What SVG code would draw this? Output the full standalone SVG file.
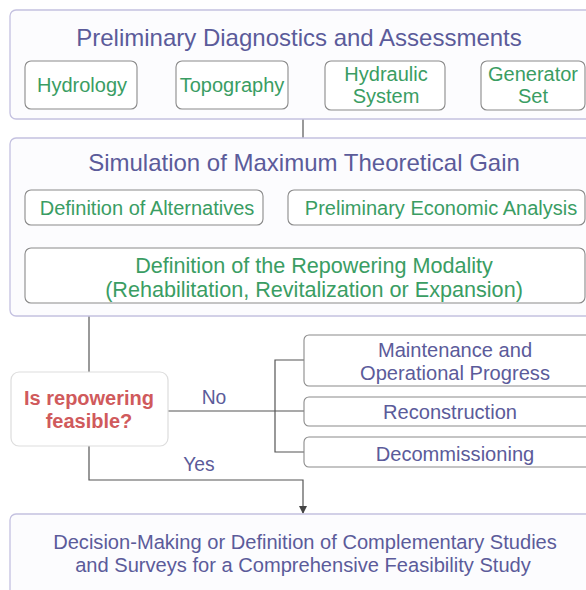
<svg xmlns="http://www.w3.org/2000/svg" width="586" height="590" viewBox="0 0 586 590">
<style>
text{font-family:"Liberation Sans",Arial,sans-serif;text-anchor:middle}
.outer{fill:#fcfcfe;stroke:#c4c1e0;stroke-width:1.3}
.sub{fill:#fff;stroke:#8a8a8a;stroke-width:1.1}
.title{fill:#5b5b9a;font-size:24px}
.g{fill:#3a9d63;font-size:20px}
.gm{fill:#3a9d63;font-size:21.6px}
.p{fill:#5b5b9a;font-size:20.1px}
.lbl{fill:#5b5b9a;font-size:19.3px}
.c{fill:none;stroke:#555;stroke-width:1.2}
</style>
<defs>
<marker id="ah" markerWidth="8" markerHeight="8" refX="7" refY="4" orient="auto" markerUnits="userSpaceOnUse">
<path d="M0,0 L8,4 L0,8 z" fill="#444"/>
</marker>
</defs>
<rect width="586" height="590" fill="#fff"/>
<g id="connectors">
<line class="c" x1="303" y1="119" x2="303" y2="138"/>
<line class="c" x1="263" y1="208" x2="288" y2="208"/>
<line class="c" x1="274" y1="208" x2="274" y2="247" marker-end="url(#ah)"/>
<line class="c" x1="89" y1="316" x2="89" y2="372"/>
<polyline class="c" points="168,411 304,411"/>
<polyline class="c" points="304,360 275,360 275,452 304,452"/>
<polyline class="c" points="89,446 89,480 303,480 303,513" marker-end="url(#ah)"/>
</g>
<g id="prelim">
<rect class="outer" x="10" y="10" width="600" height="109" rx="6"/>
<text class="title" x="299" y="46">Preliminary Diagnostics and Assessments</text>
</g>
<g id="hydrology"><rect class="sub" x="25" y="61" width="112" height="48" rx="6"/><text class="g" x="82" y="92">Hydrology</text></g>
<g id="topography"><rect class="sub" x="176" y="61" width="112" height="48" rx="6"/><text class="g" x="232" y="92">Topography</text></g>
<g id="hydraulic"><rect class="sub" x="325" y="61" width="120" height="49" rx="6"/><text class="g" x="386" y="81">Hydraulic</text><text class="g" x="386" y="103">System</text></g>
<g id="generator"><rect class="sub" x="481" y="61" width="104" height="49" rx="6"/><text class="g" x="533" y="81">Generator</text><text class="g" x="533" y="103">Set</text></g>
<g id="simulation">
<rect class="outer" x="10" y="138" width="600" height="178" rx="6"/>
<text class="title" x="304" y="171">Simulation of Maximum Theoretical Gain</text>
</g>
<g id="alternatives"><rect class="sub" x="25" y="190" width="238" height="35" rx="6"/><text class="g" x="147" y="215">Definition of Alternatives</text></g>
<g id="economic"><rect class="sub" x="288" y="190" width="297" height="35" rx="6"/><text class="g" x="441" y="215">Preliminary Economic Analysis</text></g>
<g id="modality"><rect class="sub" x="25" y="248" width="560" height="55" rx="6"/><text class="gm" x="314" y="273">Definition of the Repowering Modality</text><text class="gm" x="314" y="297">(Rehabilitation, Revitalization or Expansion)</text></g>
<g id="decision"><rect x="11" y="372" width="157" height="74" rx="8" fill="#fff" stroke="#ddd" stroke-width="1.2"/><text x="89" y="405" font-size="20" font-weight="bold" fill="#d05a5c">Is repowering</text><text x="89" y="428" font-size="20" font-weight="bold" fill="#d05a5c">feasible?</text></g>
<text class="lbl" x="214" y="404">No</text>
<text class="lbl" x="199" y="471">Yes</text>
<g id="maintenance"><rect class="sub" x="304" y="335" width="300" height="51" rx="5"/><text class="p" x="455" y="357">Maintenance and</text><text class="p" x="455" y="380">Operational Progress</text></g>
<g id="reconstruction"><rect class="sub" x="304" y="397" width="300" height="29" rx="5"/><text class="p" x="450" y="419">Reconstruction</text></g>
<g id="decommissioning"><rect class="sub" x="304" y="437" width="300" height="30" rx="5"/><text class="p" x="455" y="461">Decommissioning</text></g>
<g id="decisionmaking">
<rect class="outer" x="10" y="514" width="600" height="100" rx="6" stroke="#c8c8c8"/>
<text class="p" x="305" y="549">Decision-Making or Definition of Complementary Studies</text>
<text class="p" x="303" y="572">and Surveys for a Comprehensive Feasibility Study</text>
</g>
</svg>
